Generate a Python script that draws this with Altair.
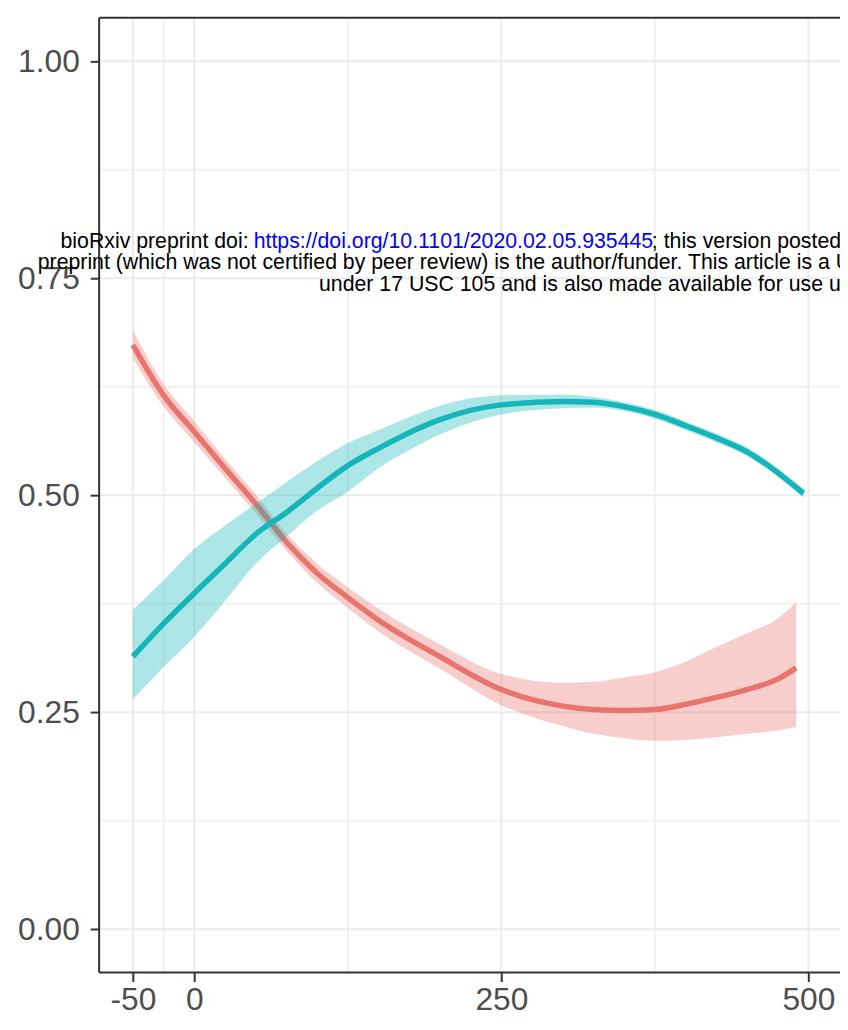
import altair as alt
import pandas as pd

# ---- axis breaks ----
x_ticks = [-50, 0, 250, 500]
x_minor = [-25, 125, 375]
y_ticks = [0.0, 0.25, 0.5, 0.75, 1.0]
y_minor = [0.125, 0.375, 0.625, 0.875]

# ---- red series (fit, lower, upper) ----
red_x = [-50, -25, 0, 25, 50, 75, 100, 125, 150, 200, 250, 300, 325, 350, 375, 400, 425, 450, 475, 490]
red_y = [0.673, 0.615, 0.573, 0.531, 0.490, 0.446, 0.410, 0.382, 0.356, 0.314, 0.276, 0.257, 0.253, 0.252, 0.253, 0.259, 0.267, 0.276, 0.288, 0.301]
red_lo = [0.658, 0.602, 0.561, 0.520, 0.479, 0.436, 0.399, 0.370, 0.343, 0.300, 0.258, 0.234, 0.225, 0.220, 0.217, 0.218, 0.221, 0.225, 0.229, 0.233]
red_hi = [0.690, 0.628, 0.585, 0.542, 0.501, 0.456, 0.421, 0.394, 0.369, 0.328, 0.294, 0.284, 0.285, 0.290, 0.296, 0.308, 0.325, 0.341, 0.358, 0.377]

# ---- teal series (fit, lower, upper) ----
teal_x = [-50, -25, 0, 25, 50, 75, 100, 125, 150, 175, 200, 250, 300, 325, 350, 375, 400, 425, 450, 475, 496]
teal_y = [0.314, 0.352, 0.387, 0.421, 0.455, 0.480, 0.508, 0.534, 0.554, 0.572, 0.587, 0.604, 0.608, 0.607, 0.602, 0.593, 0.580, 0.566, 0.550, 0.526, 0.502]
teal_lo = [0.265, 0.302, 0.337, 0.378, 0.421, 0.452, 0.482, 0.504, 0.531, 0.552, 0.570, 0.593, 0.600, 0.601, 0.597, 0.588, 0.575, 0.561, 0.545, 0.521, 0.497]
teal_hi = [0.368, 0.402, 0.438, 0.465, 0.490, 0.515, 0.539, 0.560, 0.575, 0.590, 0.603, 0.615, 0.616, 0.613, 0.607, 0.598, 0.585, 0.571, 0.555, 0.531, 0.507]

# ---- overlaid preprint header text ----
hdr1a = "bioRxiv preprint doi:"
hdr_url = "https://doi.org/10.1101/2020.02.05.935445"
hdr1b = "; this version posted February 6, 2020. The copyright holder for this"
hdr2 = "preprint (which was not certified by peer review) is the author/funder. This article is a US Government work. It is not subject to copyright"
hdr3 = "under 17 USC 105 and is also made available for use under a CC0 license."

RED = "#E8746D"
TEAL = "#14B6BA"
FONT = "Liberation Sans"
BORDER = "#333333"

W, H = 748, 964

red_df = pd.DataFrame({"x": red_x, "y": red_y, "lo": red_lo, "hi": red_hi})
teal_df = pd.DataFrame({"x": teal_x, "y": teal_y, "lo": teal_lo, "hi": teal_hi})

xscale = alt.Scale(domain=[-77.5, 525.7], nice=False, zero=False)
yscale = alt.Scale(domain=[-0.05, 1.05], nice=False, zero=False)


def X(field):
    return alt.X(f"{field}:Q", scale=xscale, title=None,
                 axis=alt.Axis(values=x_ticks, labelExpr="datum.value + ''", labelPadding=3))


def Y(field):
    return alt.Y(f"{field}:Q", scale=yscale, title=None,
                 axis=alt.Axis(values=y_ticks, format=".2f", labelPadding=11))


grid_x_major = alt.Chart(pd.DataFrame({"x": x_ticks})).mark_rule(
    color="#EBEBEB", strokeWidth=2).encode(x=X("x"))
grid_x_minor = alt.Chart(pd.DataFrame({"x": x_minor})).mark_rule(
    color="#EFEFEF", strokeWidth=1.6).encode(x=X("x"))
grid_y_major = alt.Chart(pd.DataFrame({"y": y_ticks})).mark_rule(
    color="#EBEBEB", strokeWidth=2).encode(y=Y("y"))
grid_y_minor = alt.Chart(pd.DataFrame({"y": y_minor})).mark_rule(
    color="#EFEFEF", strokeWidth=1.6).encode(y=Y("y"))


def ribbon(df, color):
    return alt.Chart(df).mark_area(color=color, opacity=0.35, interpolate="monotone").encode(
        x=X("x"), y=Y("lo"), y2="hi")


def line(df, color):
    return alt.Chart(df).mark_line(color=color, strokeWidth=5.5, interpolate="monotone").encode(
        x=X("x"), y=Y("y"))


def header(text, px, py, color="#000000"):
    return alt.Chart(pd.DataFrame({"t": [text]})).mark_text(
        align="left", baseline="alphabetic", font=FONT, fontSize=21.5, color=color
    ).encode(x=alt.value(px), y=alt.value(py), text="t:N")


border_left = alt.Chart(pd.DataFrame({"k": [0]})).mark_rule(color=BORDER, strokeWidth=2).encode(
    x=alt.value(0), y=alt.value(0), y2=alt.value(H))
border_top = alt.Chart(pd.DataFrame({"k": [0]})).mark_rule(color=BORDER, strokeWidth=2).encode(
    x=alt.value(0), x2=alt.value(W), y=alt.value(0))
border_bottom = alt.Chart(pd.DataFrame({"k": [0]})).mark_rule(color=BORDER, strokeWidth=2).encode(
    x=alt.value(0), x2=alt.value(W), y=alt.value(H))

chart = alt.layer(
    grid_x_minor, grid_y_minor, grid_x_major, grid_y_major,
    ribbon(red_df, RED), line(red_df, RED),
    ribbon(teal_df, TEAL), line(teal_df, TEAL),
    border_left, border_top, border_bottom,
    header(hdr1a, -39, 232),
    header(hdr_url, 156, 232, "#0000FF"),
    header(hdr1b, 558, 232),
    header(hdr2, -62, 254),
    header(hdr3, 222, 276),
).properties(
    width=W, height=H,
    padding={"left": 92, "top": 5, "right": 0, "bottom": 38},
    autosize=alt.AutoSizeParams(type="none"),
).configure_view(
    stroke=None, fill="white"
).configure_axis(
    domain=False, grid=False,
    tickColor=BORDER, tickWidth=2, tickSize=9,
    labelFont=FONT, labelFontSize=32, labelColor="#4D4D4D",
)

chart.save("out.html", embed_options={"renderer": "svg", "actions": False})
